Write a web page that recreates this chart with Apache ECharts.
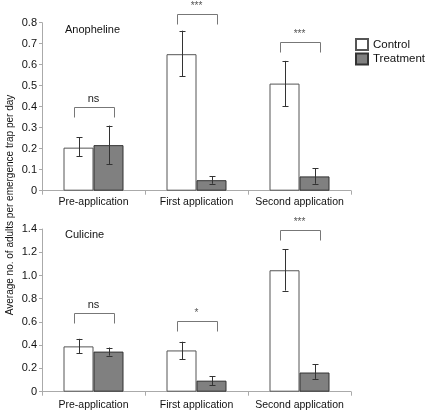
<!DOCTYPE html>
<html><head><meta charset="utf-8">
<script src="https://cdn.jsdelivr.net/npm/echarts@6/dist/echarts.min.js"></script>
<style>html,body{margin:0;padding:0;background:#fff}#c{width:425px;height:414px}</style>
</head><body><div id="c"></div>
<script>
const categories = ['Pre-application', 'First application', 'Second application'];
const anoControl = [0.205, 0.65, 0.51];
const anoControlErr = [[0.164, 0.255], [0.545, 0.762], [0.403, 0.618]];
const anoTreat = [0.217, 0.05, 0.068];
const anoTreatErr = [[0.125, 0.31], [0.033, 0.068], [0.033, 0.107]];
const culControl = [0.39, 0.355, 1.045];
const culControlErr = [[0.33, 0.455], [0.28, 0.43], [0.87, 1.225]];
const culTreat = [0.345, 0.095, 0.165];
const culTreatErr = [[0.31, 0.38], [0.058, 0.135], [0.11, 0.235]];
const anoSig = ['ns', '***', '***'];
const anoSigY = [0.40, 0.84, 0.71];
const culSig = ['ns', '*', '***'];
const culSigY = [0.68, 0.61, 1.39];
const anoTicks = {min: 0, max: 0.8, interval: 0.1};
const culTicks = {min: 0, max: 1.4, interval: 0.2};

const FONT = 'Liberation Sans';
const chart = echarts.init(document.getElementById('c'), null, {renderer: 'canvas'});

function errSeries(name, errs, xi, offset) {
  return {
    type: 'custom', xAxisIndex: xi, yAxisIndex: xi, z: 5, silent: true,
    data: errs.map((e, i) => [i, e[0], e[1]]),
    encode: {x: 0, y: [1, 2]},
    renderItem(params, api) {
      const lo = api.coord([api.value(0), api.value(1)]);
      const hi = api.coord([api.value(0), api.value(2)]);
      const x = Math.round(lo[0] + offset) + 0.5;
      const w = 3;
      const st = {stroke: '#333', lineWidth: 1};
      return {type: 'group', children: [
        {type: 'line', shape: {x1: x, y1: hi[1], x2: x, y2: lo[1]}, style: st},
        {type: 'line', shape: {x1: x - w, y1: Math.round(hi[1]) + 0.5, x2: x + w, y2: Math.round(hi[1]) + 0.5}, style: st},
        {type: 'line', shape: {x1: x - w, y1: Math.round(lo[1]) + 0.5, x2: x + w, y2: Math.round(lo[1]) + 0.5}, style: st}
      ]};
    }
  };
}
function sigSeries(labels, ys, xi) {
  return {
    type: 'custom', xAxisIndex: xi, yAxisIndex: xi, z: 6, silent: true, clip: false,
    data: ys.map((y, i) => [i, y]),
    encode: {x: 0, y: 1},
    renderItem(params, api) {
      const c = api.coord([api.value(0), api.value(1)]);
      const x0 = Math.round(c[0] - 20) + 0.5, x1 = Math.round(c[0] + 20) + 0.5, y = Math.round(c[1]) + 0.5;
      return {type: 'group', children: [
        {type: 'polyline', shape: {points: [[x0, y + 10], [x0, y], [x1, y], [x1, y + 10]]},
         style: {stroke: '#777', fill: null, lineWidth: 1}},
        {type: 'text', x: c[0], y: y - 3,
         style: {text: labels[params.dataIndex], align: 'center', verticalAlign: 'bottom',
                 fill: labels[params.dataIndex] === 'ns' ? '#222' : '#555',
                 font: (labels[params.dataIndex] === 'ns' ? '11px ' : '10px ') + FONT}}
      ]};
    }
  };
}
function xAx(gi, margin) {
  return {type: 'category', gridIndex: gi, data: categories,
    axisLine: {lineStyle: {color: '#aaa'}},
    axisTick: {show: true, interval: 0, length: 4, lineStyle: {color: '#aaa'}},
    axisLabel: {color: '#111', fontFamily: FONT, fontSize: 10.5, margin: margin, interval: 0}};
}
function yAx(gi, t) {
  return {type: 'value', gridIndex: gi, min: t.min, max: t.max, interval: t.interval,
    splitLine: {show: false},
    axisLine: {show: true, lineStyle: {color: '#aaa'}},
    axisTick: {show: true, length: 3, lineStyle: {color: '#aaa'}},
    axisLabel: {color: '#111', fontFamily: FONT, fontSize: 11, margin: 5,
      formatter: v => v === 0 ? '0' : v.toFixed(1)}};
}
const ctrlStyle = {color: '#ffffff', borderColor: '#555', borderWidth: 1};
const trtStyle = {color: '#808080', borderColor: '#333', borderWidth: 1};

chart.setOption({
  animation: false,
  grid: [
    {left: 42, top: 22.7, width: 309, height: 168},
    {left: 42, top: 229, width: 309, height: 162.7}
  ],
  xAxis: [xAx(0, 6), xAx(1, 8)],
  yAxis: [yAx(0, anoTicks), yAx(1, culTicks)],
  legend: {
    left: 355, top: 38, padding: 0, orient: 'vertical', itemWidth: 12, itemHeight: 11, itemGap: 1.5,
    icon: 'rect', data: ['Control', 'Treatment'],
    textStyle: {fontFamily: FONT, fontSize: 11.5, color: '#111'}
  },
  graphic: [
    {type: 'text', left: 65, top: 24, style: {text: 'Anopheline', font: '11px ' + FONT, fill: '#111'}},
    {type: 'text', left: 65, top: 229, style: {text: 'Culicine', font: '11px ' + FONT, fill: '#111'}},
    {type: 'text', x: 10, y: 205, rotation: Math.PI / 2,
     style: {text: 'Average no. of adults per emergence trap per day', font: '10px ' + FONT, fill: '#111',
             align: 'center', verticalAlign: 'middle'}}
  ],
  series: [
    {name: 'Control', type: 'bar', xAxisIndex: 0, yAxisIndex: 0, data: anoControl, barWidth: 30, barGap: '0%', itemStyle: ctrlStyle},
    {name: 'Treatment', type: 'bar', xAxisIndex: 0, yAxisIndex: 0, data: anoTreat, barWidth: 30, barGap: '0%', itemStyle: trtStyle},
    {name: 'Control', type: 'bar', xAxisIndex: 1, yAxisIndex: 1, data: culControl, barWidth: 30, barGap: '0%', itemStyle: ctrlStyle},
    {name: 'Treatment', type: 'bar', xAxisIndex: 1, yAxisIndex: 1, data: culTreat, barWidth: 30, barGap: '0%', itemStyle: trtStyle},
    errSeries('ce0', anoControlErr, 0, -15),
    errSeries('te0', anoTreatErr, 0, 15),
    errSeries('ce1', culControlErr, 1, -15),
    errSeries('te1', culTreatErr, 1, 15),
    sigSeries(anoSig, anoSigY, 0),
    sigSeries(culSig, culSigY, 1)
  ]
});
</script></body></html>
